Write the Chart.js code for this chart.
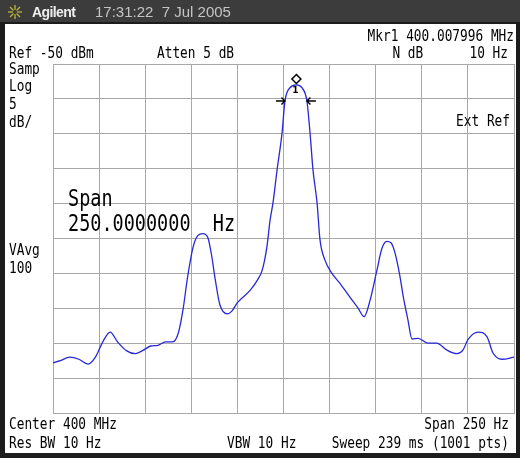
<!DOCTYPE html>
<html>
<head>
<meta charset="utf-8">
<script src="https://cdn.jsdelivr.net/npm/chart.js@4"></script>
<style>
  body { margin: 0; width: 520px; height: 458px; background: #1c1c1c; position: relative; overflow: hidden; }
  #header { position: absolute; left: 0; top: 0; width: 520px; height: 22px; background: #3c3c3c; }
  #panel { position: absolute; left: 5px; top: 24px; width: 511px; height: 429px; background: #fff; }
  #plot { position: absolute; left: 0; top: 0; }
  .t { position: absolute; white-space: pre; color: #000; font-family: "DejaVu Sans Mono", monospace; line-height: 1; }
  .h { position: absolute; white-space: pre; font-family: "Liberation Sans", Arial, sans-serif; line-height: 1; }
</style>
</head>
<body>
<div id="header">
  <svg width="24" height="22" style="position:absolute;left:4px;top:1px">
    <g stroke="#b8b838" stroke-width="1.3">
      <line x1="11" y1="4" x2="11" y2="18"/>
      <line x1="4" y1="11" x2="18" y2="11"/>
      <line x1="6" y1="6" x2="16" y2="16"/>
      <line x1="16" y1="6" x2="6" y2="16"/>
    </g>
    <circle cx="11" cy="11" r="2.2" fill="#3c3c3c"/>
  </svg>
</div>
<div id="panel"></div>
<canvas id="plot" width="520" height="458"></canvas>
<script>
// Trace: frequency offset from center (Hz) and level (dBm)
const freqHz = [-125, -121, -116, -111, -106, -102, -98, -94, -90, -85,
    -80.5, -76, -72, -68, -64, -60, -57, -54.5, -52, -49,
    -46.5, -43.7, -41, -39, -37, -34.5, -30.5, -28, -25, -18,
    -14, -11.5, -9, -7.3, -5.7, -3.5, -0.8, 0.8, 3.5, 7,
    10, 12.7, 14.4, 16, 18.2, 19.8, 22.5, 26, 30.5, 36,
    40.5, 43.7, 47, 50.7, 53.4, 56, 58.3, 60.5, 63, 65,
    67.5, 69.7, 73, 78.5, 83, 88.7, 94, 97.3, 100, 105.5,
    110.4, 113.6, 118.5, 125];
const levelDbm = [-92.8, -92.5, -92.0, -92.3, -93.0, -92.0, -89.8, -88.4, -89.8, -91.1,
    -91.5, -91.0, -90.4, -90.3, -89.8, -89.8, -88.5, -85.2, -80.5, -76.2,
    -74.6, -74.3, -74.9, -77.4, -80.9, -84.5, -85.8, -85.4, -84.2, -82.4,
    -80.9, -79.5, -76.2, -72.4, -69.9, -65.2, -59.9, -55.3, -53.4, -53.0,
    -53.4, -55.3, -59.9, -65.2, -69.9, -75.2, -78.1, -79.9, -81.4, -83.4,
    -85.0, -86.2, -83.8, -79.5, -76.4, -75.4, -75.6, -77.1, -80.2, -83.4,
    -86.7, -89.4, -89.3, -90.0, -90.0, -91.0, -91.5, -91.0, -89.5, -88.4,
    -89.1, -91.4, -92.3, -92.0];

// Screen settings
const spanHz = 250;
const refDbm = -50;
const dbPerDiv = 5;
const divisions = 10;

// Marker 1 and N dB points
const markerHz = 7;
const markerDbm = -53.0;
const ndbLevel = -55.3;
const ndbLeftHz = 0.8;
const ndbRightHz = 12.7;

const points = freqHz.map((f, i) => ({ x: f, y: levelDbm[i] }));

// Marker diamond and N dB arrows
const markerPlugin = {
    id: 'markerPlugin',
    afterDatasetsDraw(chart) {
        const ctx = chart.ctx;
        const xs = chart.scales.x, ys = chart.scales.y;
        const mx = xs.getPixelForValue(markerHz);
        const my = ys.getPixelForValue(markerDbm) - 6;
        ctx.save();
        ctx.strokeStyle = '#000';
        ctx.fillStyle = '#fff';
        ctx.lineWidth = 1.5;
        ctx.beginPath();
        ctx.moveTo(mx, my - 4.5);
        ctx.lineTo(mx + 4.5, my);
        ctx.lineTo(mx, my + 4.5);
        ctx.lineTo(mx - 4.5, my);
        ctx.closePath();
        ctx.fill();
        ctx.stroke();
        ctx.fillStyle = '#000';
        ctx.font = 'bold 9px "DejaVu Sans"';
        ctx.textAlign = 'center';
        ctx.fillText('1', mx - 1, my + 14);

        const ay = ys.getPixelForValue(ndbLevel);
        const lx = xs.getPixelForValue(ndbLeftHz);
        const rx = xs.getPixelForValue(ndbRightHz);
        ctx.lineWidth = 1.4;
        ctx.beginPath();
        ctx.moveTo(lx - 9, ay); ctx.lineTo(lx, ay);
        ctx.moveTo(lx - 3.5, ay - 3.5); ctx.lineTo(lx, ay); ctx.lineTo(lx - 3.5, ay + 3.5);
        ctx.moveTo(rx + 9, ay); ctx.lineTo(rx, ay);
        ctx.moveTo(rx + 3.5, ay - 3.5); ctx.lineTo(rx, ay); ctx.lineTo(rx + 3.5, ay + 3.5);
        ctx.stroke();
        ctx.restore();
    }
};

new Chart(document.getElementById('plot'), {
    type: 'line',
    data: {
        datasets: [{
            data: points,
            borderColor: 'rgb(40, 40, 215)',
            borderWidth: 1.3,
            pointRadius: 0,
            cubicInterpolationMode: 'monotone',
            fill: false
        }]
    },
    options: {
        responsive: false,
        animation: false,
        devicePixelRatio: 1,
        layout: { padding: { left: 53, top: 64, right: 6, bottom: 45 } },
        plugins: { legend: { display: false }, tooltip: { enabled: false } },
        scales: {
            x: {
                type: 'linear',
                min: -spanHz / 2,
                max: spanHz / 2,
                ticks: { display: false, stepSize: spanHz / divisions },
                grid: { color: '#a8a8a8', lineWidth: 1, drawTicks: false },
                border: { color: '#a8a8a8' }
            },
            y: {
                min: refDbm - dbPerDiv * divisions,
                max: refDbm,
                ticks: { display: false, stepSize: dbPerDiv },
                grid: { color: '#a8a8a8', lineWidth: 1, drawTicks: false },
                border: { color: '#a8a8a8' }
            }
        }
    },
    plugins: [markerPlugin]
});

// Text labels, positioned by baseline
function label(text, pos, baseline, size, cls, extra) {
    const d = document.createElement('div');
    d.className = cls || 't';
    d.textContent = text;
    const s = size || 12.8;
    const asc = 0.846 * s;
    d.style.fontSize = s + 'px';
    d.style.top = (baseline - asc) + 'px';
    if (pos.left !== undefined) d.style.left = pos.left + 'px';
    if (pos.right !== undefined) d.style.right = (520 - pos.right) + 'px';
    d.style.transformOrigin = '0 ' + asc + 'px';
    d.style.transform = 'scaleY(1.2)';
    Object.assign(d.style, extra || {});
    document.body.appendChild(d);
}

label('Agilent', { left: 32 }, 17, 14, 'h', { fontWeight: 'bold', color: '#eeeeee', letterSpacing: '-0.6px', transform: 'none' });
label('17:31:22  7 Jul 2005', { left: 95 }, 17, 15, 'h', { color: '#c4c4c4', letterSpacing: '0px', transform: 'none' });

label('Mkr1 400.007996 MHz', { right: 514 }, 42);
label('Ref -50 dBm', { left: 9 }, 59);
label('Atten 5 dB', { left: 157 }, 59);
label('N dB      10 Hz', { right: 508 }, 59);
label('Samp', { left: 9 }, 75);
label('Log', { left: 9 }, 92);
label('5', { left: 9 }, 110);
label('dB/', { left: 9 }, 128);
label('Ext Ref', { right: 510 }, 127);
label('VAvg', { left: 9 }, 256);
label('100', { left: 9 }, 274);
label('Span', { left: 68 }, 207, 18.5);
label('250.0000000  Hz', { left: 68 }, 232, 18.5);
label('Center 400 MHz', { left: 9 }, 430);
label('Span 250 Hz', { right: 509 }, 430);
label('Res BW 10 Hz', { left: 9 }, 449);
label('VBW 10 Hz', { left: 227 }, 449);
label('Sweep 239 ms (1001 pts)', { right: 509 }, 449);
</script>
</body>
</html>
